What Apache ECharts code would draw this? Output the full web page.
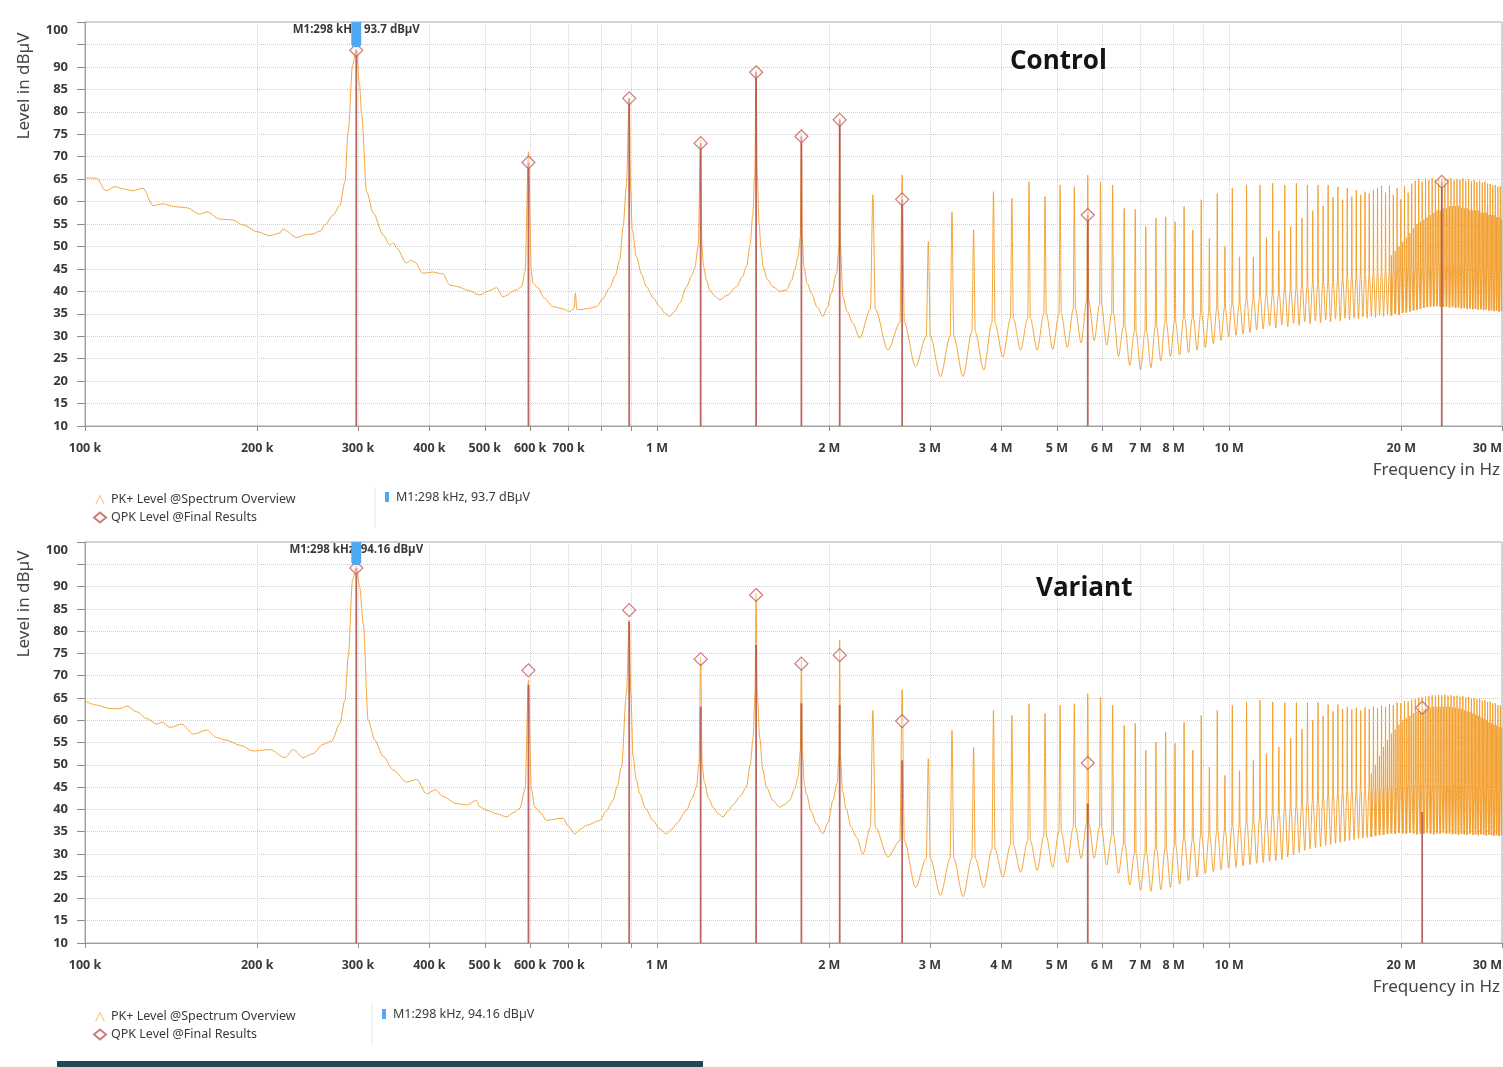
<!DOCTYPE html>
<html>
<head>
<meta charset="utf-8">
<title>Control vs Variant - conducted emissions</title>
<script src="https://cdn.jsdelivr.net/npm/echarts@6/dist/echarts.min.js"></script>
<style>
  html, body { margin: 0; padding: 0; background: #fff; }
  #chart { width: 1503px; height: 1067px; }
</style>
</head>
<body>
<div id="chart"></div>
<script>
// ---- data (frequencies in kHz, levels in dBµV) ----

// fundamental of the switching comb (marker M1)
var F0 = 298;
var COMB_FIRST = 8; // first harmonic drawn from the comb arrays

var freqTicks = [100, 200, 300, 400, 500, 600, 700, 800, 900, 1000, 2000, 3000, 4000, 5000,
  6000, 7000, 8000, 9000, 10000, 20000, 30000];
var freqLabels = [100, 200, 300, 400, 500, 600, 700, 1000, 2000, 3000, 4000, 5000,
  6000, 7000, 8000, 10000, 20000, 30000];

// PK+ trace, Control, below the dense comb
var ctrlLow = [[100,65.3],[104.8,65.2],[108.8,62.4],[112.8,63.3],[117,62.8],[121.3,62.4],[126.3,63.0],
  [131.5,59.1],[136.9,59.5],[143,58.9],[150.8,58.6],[158.8,57.2],[163.3,57.7],[172.2,56.1],[181.4,55.9],
  [188.8,54.8],[199.8,53.3],[210.5,52.4],[219.1,53.0],[221.8,53.9],[234.6,52.0],[243,52.6],[250.2,52.8],
  [257.4,53.4],[262.7,54.8],[271.6,57.0],[279,59.2],[284.7,64.4],[288.5,75.6],[293.6,90.4],[298,94.0],
  [302,86],[304.5,79.3],[310.7,62.2],[319,57.5],[332,52.6],[341.2,50.3],[346,50.8],[350.6,49.6],
  [364.9,46.3],[371,46.9],[377.3,46.5],[389.6,44.0],[405,44.3],[422.2,43.9],[434.3,41.4],[446.2,41.1],
  [468,40.2],[490,39.2],[508,40.1],[524.1,40.8],[537.5,38.8],[567.9,40.3],[579.5,41.0],[588,44.5],
  [596,71.1],[603,44.5],[606.5,41.9],[618.8,40.8],[635,38.5],[657.3,36.6],[680,36.2],[703.9,35.5],
  [716,36.2],[720,39.6],[724,36.0],[732.7,35.9],[760,36.2],[783.6,36.6],[805,38.4],[826.6,40.8],
  [845,43.5],[860.6,47.0],[872.2,54.4],[884,63.5],[894,82.8],[899,63],[905,53.7],[920.4,47.7],
  [940,43.8],[958.3,41.0],[985,38.5],[1011,36.6],[1030,35.2],[1052,34.4],[1075,35.6],[1096,37.4],
  [1126,41.0],[1150,43.5],[1164,45.2],[1180,50],[1192,73.8],[1198,50],[1206,45.5],[1220,42.5],
  [1236,40.3],[1260,39.0],[1287,38.1],[1330,39.2],[1376,41.0],[1410,43.2],[1433,45.5],[1455,50.5],
  [1470,57],[1482,66],[1490,89.2],[1497,66],[1508,55],[1520,49.5],[1532,45.5],[1560,42.6],[1595,41.0],
  [1640,40.0],[1683,40.3],[1720,42.5],[1740,44.8],[1764,47.7],[1780,52],[1788,75.2],[1794,52],
  [1806,45.5],[1830,41.8],[1861,39.6],[1905,36.5],[1950,34.4],[1985,36.5],[2017,39.6],[2060,44],
  [2080,50],[2086,78.5],[2092,50],[2113,38.8],[2150,35.5],[2200,32.9],[2261,29.6]];

// Control comb, harmonics 8..100: spike top, spike base, floor after the harmonic
var ctrlPeak = [61.5,65.9,51.1,57.7,53.7,62.2,60.7,64.4,61.1,63.7,
  63.3,65.9,64.4,63.7,58.5,58.3,54.4,56.3,56.6,55.5,
  58.9,53.7,60.4,51.8,61.8,50.0,63.0,47.7,63.7,47.7,
  63.7,52.0,64.1,53.5,63.7,54.4,64.1,56.3,63.7,58.0,
  63.7,59.0,63.7,61.0,63.3,60.4,63.0,61.1,62.6,61.5,
  62.2,61.8,62.6,63.0,63.5,62.0,63.5,61.5,63.0,60.5,
  63.5,62.0,64.0,64.6,65.0,64.4,65.1,64.7,65.2,64.8,
  65.0,65.2,65.1,64.9,65.2,64.7,65.0,64.8,65.1,64.6,
  64.9,64.5,64.8,64.3,64.6,64.2,64.4,64.0,63.9,63.6,
  63.7,63.3,63.4];
var ctrlShoulder = [36,33,30,30,31,33,34,34,35,35,
  36,38,37,35,32,31,31,32,33,33,
  34,34,35,35,36,36,37,37,38,38,
  38.5,39,39,39.5,40,40,40.5,41,41,41.5,
  41.5,42,42,42,42.5,42.5,43,43,43,43.5,
  43.5,43.5,44,44,44,44.5,44.5,44.5,45,45,
  45,45,45,45.5,45,46,45.5,46,45.5,46.5,
  46,46.5,46,46.5,46,46.5,46,46.5,46,46.5,
  46,46,45.5,46,45.5,45.5,45,45.5,45,45,
  45,44.5,45];
var ctrlFloor = [26.9,23.2,21.0,21.0,22.5,25.4,26.9,26.9,27.0,27.5,
  28.5,29.0,28.0,25.5,23.5,22.5,23.0,24.5,25.5,25.8,
  26.3,26.9,27.5,28.3,29.0,29.9,30.2,30.5,30.8,31.4,
  31.6,32.3,31.8,32.6,32.1,32.9,32.4,33.2,32.7,33.4,
  33.0,33.6,33.2,33.8,33.4,34.0,33.6,34.1,33.8,34.3,
  34.0,34.4,34.2,34.6,34.4,34.8,34.6,35.0,34.8,35.2,
  35.3,35.5,35.7,35.9,36.1,36.3,36.5,36.6,36.6,36.7,
  36.6,36.5,36.6,36.4,36.5,36.3,36.4,36.2,36.3,36.1,
  36.2,36.0,36.1,35.9,36.0,35.8,35.9,35.7,35.8,35.6,
  35.7,35.5,35.6];
// secondary spikes half way between harmonics, from harmonic 64 upward
var ctrlMidFirst = 64;
var ctrlMid = [48,49,50,51,52,53,54,
  55,55.5,56,56.5,57,57.5,58,58,58.5,58.5,
  59,59,59,59,58.5,58.5,58.5,58,58,58,
  58,57.5,57.5,57.5,57,57,57,56.5,56.5,56];

// QPK final results, Control: diamonds and their stems
var ctrlQpk = [[298,93.7],[596,68.7],[894,83.0],[1192,73.0],[1490,88.8],[1788,74.5],[2086,78.2],
  [2682,60.5],[5662,57.0],[23542,64.4]];
var ctrlStem = [[298,93.7],[596,68.7],[894,83.0],[1192,73.0],[1490,88.8],[1788,74.5],[2086,78.2],
  [2682,60.5],[5662,57.0],[23542,64.4]];
var ctrlMarker = [[298, 93.7]];

// PK+ trace, Variant
var varLow = [[100,64.3],[104.8,63.4],[110.5,62.6],[115.1,62.6],[118.3,63.2],[123.1,61.9],[128.2,60.4],
  [133.5,59.1],[136.3,59.6],[140.8,58.4],[147.6,59.1],[154.7,56.9],[163.2,57.8],[169.8,56.1],[176.8,55.5],
  [186.6,54.4],[196.9,53.1],[210.5,53.4],[223.6,51.6],[231.2,53.4],[240.6,51.6],[250.2,52.5],[260.9,54.6],
  [269.9,55.3],[279,59.3],[284.7,64.5],[288.5,74.2],[293.6,91.5],[298,94.6],[302,90],[306.5,81.7],
  [312.6,60.0],[321.2,55.5],[332,51.9],[345.8,48.8],[364.9,46.1],[379.9,46.7],[395.5,43.5],[410,44.4],
  [422.2,42.9],[446.2,41.3],[465,41.0],[483.5,42.0],[490,40.6],[503.4,39.8],[525,39.0],[545.6,38.3],
  [560,39.2],[575.5,40.2],[588,44.5],[596,69.0],[603,44.5],[611.4,40.5],[625,39.3],[640.8,37.5],
  [662,37.8],[685.1,38.0],[700,36.2],[718.1,34.5],[735,35.6],[752.7,36.4],[794.1,37.5],[815,39.6],
  [837.7,42.0],[852,45.2],[866.6,49.5],[884.2,66.0],[894,82.5],[900,66],[908,51.8],[920,46.6],
  [932.8,43.5],[955,40.2],[984,37.5],[1010,35.6],[1038,34.5],[1060,35.5],[1081,36.8],[1126,39.8],
  [1150,42.3],[1172,45.0],[1184,50.5],[1192,74.2],[1199,50],[1210,46.0],[1230,42.5],[1253,40.5],
  [1280,39.0],[1304,38.3],[1330,39.6],[1357,41.0],[1400,43.0],[1433,45.0],[1455,50.0],[1472,56.0],
  [1483,66],[1490,88.5],[1497,66],[1512,56.0],[1530,49],[1553,45.0],[1595,42.0],[1638,40.5],
  [1670,41.0],[1705,42.0],[1740,44.5],[1764,47.3],[1780,53],[1788,73.5],[1795,53],[1808,46.0],
  [1824,43.5],[1860,39.5],[1899,36.8],[1950,34.5],[1990,37],[2030,42.0],[2065,46],[2080,52],
  [2086,78.0],[2092,52],[2110,44],[2142,40.0],[2185,36],[2230,33.8],[2291,30.0]];

var varPeak = [62.2,66.9,51.4,57.8,53.9,62.2,61.1,63.7,61.5,63.4,
  63.7,66.0,65.2,63.4,58.9,59.3,53.3,55.1,57.4,54.8,
  59.6,53.3,61.1,49.5,62.2,47.6,63.4,48.7,64.1,51.0,
  64.5,52.5,64.1,54.0,64.0,56.0,64.0,58.0,64.0,60.0,
  64.0,61.0,63.5,62.0,63.5,62.5,63.0,62.4,62.8,62.2,
  62.9,62.5,63.1,62.7,63.3,63.0,63.6,63.4,64.0,63.8,
  64.3,64.2,64.6,64.7,65.0,65.1,65.3,65.4,65.6,65.5,
  65.7,65.6,65.7,65.5,65.6,65.4,65.5,65.3,65.4,65.1,
  65.2,64.9,65.0,64.7,64.8,64.4,64.5,64.1,64.2,63.8,
  63.8,63.4,63.3];
var varShoulder = [36,33,29,29,29,31,32,33,34,35,
  36,37,36,34,32,30,30,31,31,32,
  33,33,34,34,35,35,36,36,37,37,
  38,38,39,39,40,40,40.5,41,41.5,42,
  42,42.5,43,43,43.5,43.5,44,44,44,44.5,
  44.5,44.5,45,45,45,45.5,45,45.5,45,45.5,
  45,46,45.5,46,45.5,46,45.5,46,45.5,46,
  45.5,46,45.5,46,45.5,46,45.5,46,45.5,45.5,
  45,45.5,45,45.5,45,45,44.5,45,44.5,44.5,
  44.5,44,44.5];
var varFloor = [29.3,22.5,20.7,20.4,22.5,24.8,25.9,26.3,27.0,28.0,
  29.0,29.0,27.5,25.6,23.0,21.8,21.6,22.0,22.5,23.2,
  24.0,24.8,25.6,26.0,26.4,26.8,27.0,27.3,27.6,27.9,
  28.1,28.3,28.5,28.7,29.3,29.8,30.3,30.8,31.1,31.4,
  31.6,31.9,32.1,32.4,32.6,32.8,33.0,33.2,33.4,33.5,
  33.7,33.8,34.0,34.2,34.3,34.5,34.6,34.5,34.7,34.6,
  34.5,34.7,34.6,34.4,34.6,34.5,34.7,34.5,34.4,34.6,
  34.5,34.7,34.5,34.6,34.4,34.5,34.3,34.5,34.4,34.3,
  34.5,34.3,34.4,34.2,34.4,34.3,34.1,34.3,34.2,34.1,
  34.2,34.0,34.2];
var varMidFirst = 59;
var varMid = [48,50,52,54,55.5,
  57,58,59,60,60.5,61,61.5,
  62,62,62.5,62.5,62.8,63,63,63,63,63,
  63,62.8,62.8,62.6,62.5,62.3,62,61.8,61.5,61.2,
  61,60.6,60.3,60,59.6,59.3,59,58.8,58.5,58.3];

var varQpk = [[298,94.16],[596,71.2],[894,84.7],[1192,73.7],[1490,88.1],[1788,72.7],[2086,74.6],
  [2682,59.8],[5662,50.4],[21754,62.8]];
var varStem = [[298,94.16],[596,67.9],[894,82.1],[1192,63.0],[1490,76.9],[1788,63.8],[2086,63.4],
  [2682,51.0],[5662,41.3],[21754,39.4]];
var varMarker = [[298, 94.16]];

var LEVEL_MIN = 10, LEVEL_MAX = 100;
var PK_NAME = 'PK+ Level @Spectrum Overview';
var QPK_NAME = 'QPK Level @Final Results';

// ---- build ----
var FONT = '"Noto Sans", "DejaVu Sans", sans-serif';
var TXT = '#3a3a3a';

// per harmonic: narrow spike (base, top, base), then the floor; where a
// secondary spike sits half way to the next harmonic it splits the floor
function buildTrace(low, peaks, shoulders, floors, midFirst, mids) {
  var pts = low.slice();
  for (var i = 0; i < peaks.length; i++) {
    var n = COMB_FIRST + i;
    var f = n * F0;
    var mid = mids[n - midFirst];
    pts.push([f - 0.08 * F0, shoulders[i]]);
    pts.push([f, peaks[i]]);
    pts.push([f + 0.08 * F0, shoulders[i]]);
    if (mid !== undefined) {
      pts.push([f + 0.42 * F0, floors[i]]);
      pts.push([f + 0.5 * F0, mid]);
      pts.push([f + 0.58 * F0, floors[i]]);
    } else {
      pts.push([f + 0.5 * F0, floors[i]]);
    }
  }
  return pts;
}

function fmtFreq(v) {
  return v >= 1000 ? (v / 1000) + ' M' : v + ' k';
}
function fmtLevel(v) {
  if (v === 95) return '';
  if (v === 100) return '{top|100}';
  return String(v);
}

function renderStem(params, api) {
  var top = api.coord([api.value(0), api.value(1)]);
  var base = api.coord([api.value(0), LEVEL_MIN]);
  return {
    type: 'line',
    shape: { x1: top[0], y1: top[1], x2: base[0], y2: base[1] },
    style: { stroke: '#b24c48', lineWidth: 1.8, opacity: 0.85 }
  };
}

function markerRenderer(label) {
  return function (params, api) {
    var f = api.value(0);
    var top = api.coord([f, LEVEL_MAX]);
    var at = api.coord([f, api.value(1)]);
    return {
      type: 'group',
      children: [
        { type: 'text', x: top[0], y: top[1] + 8,
          style: { text: label, fill: TXT, fontSize: 11.5, fontWeight: 'bold', fontFamily: FONT,
                   align: 'center', verticalAlign: 'middle' } },
        { type: 'rect', shape: { x: top[0] - 5, y: top[1], width: 10, height: at[1] - top[1] - 3, r: [0, 0, 4, 4] },
          style: { fill: '#4ea8f2' } }
      ]
    };
  };
}

function xAxis(i) {
  return {
    type: 'log', logBase: 10, gridIndex: i, min: 100, max: 30000,
    name: 'Frequency in Hz', nameLocation: 'end', nameGap: 0,
    nameTextStyle: { align: 'right', verticalAlign: 'top', padding: [36, 2, 0, 0],
                     fontSize: 17, color: '#444', fontFamily: FONT },
    axisLine: { show: true, lineStyle: { color: '#a0a0a0' } },
    axisTick: { show: true, length: 5, customValues: freqTicks, lineStyle: { color: '#8c8c8c' } },
    axisLabel: { customValues: freqLabels, formatter: fmtFreq, margin: 16, fontSize: 12.5,
                 fontWeight: 'bold', color: TXT, fontFamily: FONT, alignMaxLabel: 'right' },
    splitLine: { show: true, lineStyle: { type: 'dotted', color: '#d4d4d4' } }
  };
}

function yAxis(i) {
  var lbl = { fontSize: 13, fontWeight: 'bold', color: TXT, fontFamily: FONT };
  return {
    type: 'value', gridIndex: i, min: LEVEL_MIN, max: LEVEL_MAX, interval: 5,
    axisLine: { show: true, lineStyle: { color: '#a0a0a0' } },
    axisTick: { show: true, length: 8, lineStyle: { color: '#8c8c8c' } },
    axisLabel: Object.assign({ margin: 17, formatter: fmtLevel,
      rich: { top: Object.assign({ padding: [17, 0, 0, 0] }, lbl) } }, lbl),
    splitLine: { show: true, lineStyle: { type: 'dotted', color: '#cdcdcd' } }
  };
}

function panelSeries(i, trace, qpk, stems, marker, markerText) {
  return [
    { type: 'line', name: PK_NAME, xAxisIndex: i, yAxisIndex: i, data: trace,
      showSymbol: false, symbol: 'none', z: 2, smooth: 0.3, smoothMonotone: 'x',
      lineStyle: { color: '#f29c28', width: 0.9 }, itemStyle: { color: '#f7c282' } },
    { type: 'custom', name: 'QPK stems', xAxisIndex: i, yAxisIndex: i, data: stems,
      renderItem: renderStem, z: 3, silent: true },
    { type: 'scatter', name: QPK_NAME, xAxisIndex: i, yAxisIndex: i, data: qpk,
      symbol: 'diamond', symbolSize: 13, z: 4,
      itemStyle: { color: 'rgba(255,255,255,0.5)', borderColor: '#c25a57', borderWidth: 1.2 } },
    { type: 'custom', name: 'M1', xAxisIndex: i, yAxisIndex: i, data: marker,
      renderItem: markerRenderer(markerText), z: 5, silent: true }
  ];
}

function legend(top) {
  return {
    top: top, left: 88, orient: 'vertical', itemWidth: 12, itemHeight: 10, itemGap: 5,
    selectedMode: false,
    textStyle: { fontSize: 12.5, color: TXT, fontFamily: FONT },
    data: [
      { name: PK_NAME, icon: 'path://M0,12L6,0L12,12L10.6,12L6,2.8L1.4,12Z' },
      { name: QPK_NAME, icon: 'diamond' }
    ]
  };
}

function markerLegend(x, y, text) {
  return [
    { type: 'line', shape: { x1: x - 10, y1: y - 10, x2: x - 10, y2: y + 30 },
      style: { stroke: '#e6e6e6', lineWidth: 1 } },
    { type: 'rect', shape: { x: x, y: y - 5, width: 4, height: 10 }, style: { fill: '#4ea8f2' } },
    { type: 'text', x: x + 11, y: y,
      style: { text: text, fill: TXT, fontSize: 12.5, fontFamily: FONT, verticalAlign: 'middle' } }
  ];
}

function yName(y) {
  return { type: 'text', x: 24, y: y, rotation: Math.PI / 2,
    style: { text: 'Level in dBµV', fill: '#444', fontSize: 17, fontFamily: FONT,
             align: 'center', verticalAlign: 'middle' } };
}

var chart = echarts.init(document.getElementById('chart'));
chart.setOption({
  animation: false,
  backgroundColor: '#fff',
  title: [
    { text: 'Control', left: 1005, top: 44,
      textStyle: { fontSize: 26, fontWeight: 'bold', color: '#141414', fontFamily: '"Open Sans", sans-serif' } },
    { text: 'Variant', left: 1031, top: 571,
      textStyle: { fontSize: 26, fontWeight: 'bold', color: '#141414', fontFamily: '"Open Sans", sans-serif' } }
  ],
  grid: [
    { left: 85, right: 1, top: 22, height: 404, show: true, borderColor: '#a8a8a8', borderWidth: 1,
      outerBoundsMode: 'none' },
    { left: 85, right: 1, top: 542, height: 401, show: true, borderColor: '#a8a8a8', borderWidth: 1,
      outerBoundsMode: 'none' }
  ],
  xAxis: [xAxis(0), xAxis(1)],
  yAxis: [yAxis(0), yAxis(1)],
  legend: [legend(488), legend(1005)],
  series: panelSeries(0, buildTrace(ctrlLow, ctrlPeak, ctrlShoulder, ctrlFloor, ctrlMidFirst, ctrlMid),
                      ctrlQpk, ctrlStem, ctrlMarker, 'M1:298 kHz, 93.7 dBµV')
    .concat(panelSeries(1, buildTrace(varLow, varPeak, varShoulder, varFloor, varMidFirst, varMid),
                        varQpk, varStem, varMarker, 'M1:298 kHz, 94.16 dBµV')),
  graphic: [yName(86), yName(604)]
    .concat(markerLegend(385, 497, 'M1:298 kHz, 93.7 dBµV'))
    .concat(markerLegend(382, 1014, 'M1:298 kHz, 94.16 dBµV'))
    .concat([{ type: 'rect', shape: { x: 57, y: 1061, width: 646, height: 6 }, style: { fill: '#1e4a54' } }])
});
</script>
</body>
</html>
